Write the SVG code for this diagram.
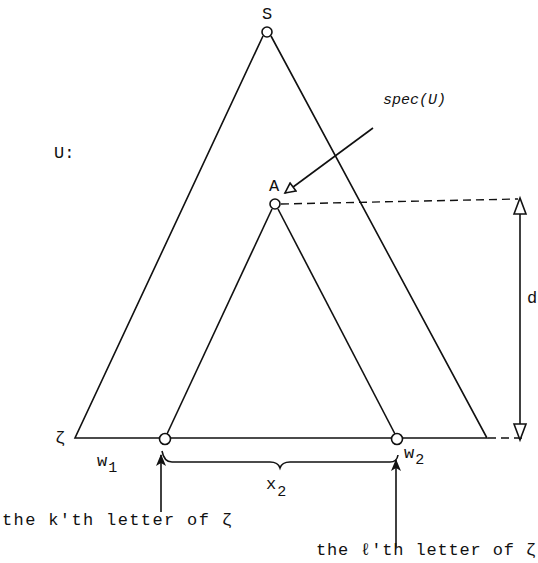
<svg xmlns="http://www.w3.org/2000/svg" width="538" height="563" viewBox="0 0 538 563">
<defs>
<style>
.ln{stroke:#111;stroke-width:1.6;fill:none}
.ds{stroke:#111;stroke-width:1.4;fill:none;stroke-dasharray:8 5}
.nd{fill:#fff;stroke:#111;stroke-width:1.6}
.t{font-family:"Liberation Mono","DejaVu Sans Mono",monospace;font-size:17px;fill:#111}
.it{font-family:"Liberation Mono",monospace;font-size:15px;font-style:italic;fill:#111}
.sub{font-family:"Liberation Mono",monospace;font-size:15px;fill:#111}
</style>
<marker id="fa" viewBox="0 0 12 10" refX="11" refY="5" markerWidth="13" markerHeight="10" markerUnits="userSpaceOnUse" orient="auto"><path d="M0,0 L12,5 L0,10 L3,5 z" fill="#111"/></marker>
<marker id="oa" viewBox="0 0 12 12" refX="11" refY="6" markerWidth="13" markerHeight="12" markerUnits="userSpaceOnUse" orient="auto"><path d="M1,1 L11,6 L1,11 z" fill="#fff" stroke="#111" stroke-width="1.6"/></marker>
</defs>
<g id="connectors">
<polyline class="ln" points="263,36 75,438 487,438 271,36"/>
<polyline class="ln" points="272,209 167,434"/>
<polyline class="ln" points="278,209 395,434"/>
<line class="ds" x1="281" y1="204" x2="518" y2="199"/>
<line class="ds" x1="488" y1="438" x2="525" y2="438"/>
<line class="ln" x1="520" y1="205" x2="520" y2="432"/>
<path d="M514,214 L520,198 L526,214 Z" fill="#fff" stroke="#111" stroke-width="1.6"/>
<path d="M514,424 L520,440 L526,424 Z" fill="#fff" stroke="#111" stroke-width="1.6"/>
<line class="ln" x1="373" y1="128" x2="285" y2="193" marker-end="url(#oa)"/>
<path class="ln" d="M162,451 Q164,462 172,462 L270,462 Q278,462 280,468 Q282,462 290,462 L390,462 Q397,462 398,455"/>
<line class="ln" x1="161" y1="512" x2="161" y2="455" marker-end="url(#fa)"/>
<line class="ln" x1="396" y1="547" x2="396" y2="460" marker-end="url(#fa)"/>
</g>
<g id="S"><circle class="nd" cx="267" cy="32" r="5"/><text class="t" x="262" y="19">S</text></g>
<g id="A"><circle class="nd" cx="275" cy="204" r="5"/><text class="t" x="269" y="191">A</text></g>
<g id="k"><circle class="nd" cx="165" cy="439" r="5.5"/></g>
<g id="l"><circle class="nd" cx="397" cy="439" r="5.5"/></g>
<g id="labels">
<text class="t" x="54" y="158">U:</text>
<text class="it" x="383" y="104">spec(U)</text>
<text class="t" x="527" y="303">d</text>
<text class="t" x="55" y="443">ζ</text>
<text class="t" x="97" y="466">w<tspan class="sub" dx="1" dy="6">1</tspan></text>
<text class="t" x="404" y="458">w<tspan class="sub" dx="1" dy="6">2</tspan></text>
<text class="t" x="266" y="489">x<tspan class="sub" dx="1" dy="7">2</tspan></text>
<text class="t" x="2" y="525" textLength="230" lengthAdjust="spacing">the k'th letter of ζ</text>
<text class="t" x="316" y="555" textLength="220" lengthAdjust="spacing">the ℓ'th letter of ζ</text>
</g>
</svg>
